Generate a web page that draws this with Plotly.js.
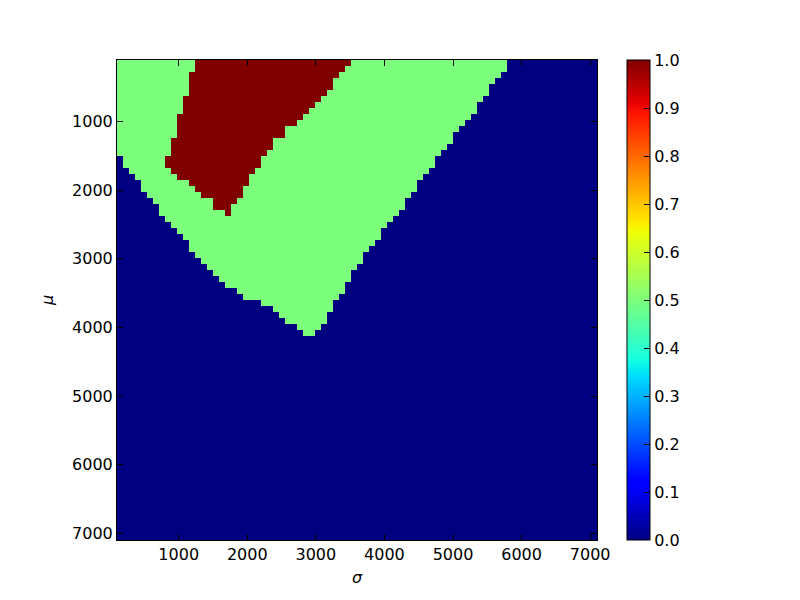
<!DOCTYPE html>
<html>
<head>
<meta charset="utf-8">
<script src="https://cdn.plot.ly/plotly-3.0.1.min.js"></script>
<style>html,body{margin:0;padding:0;background:#fff;}#chart{width:800px;height:600px;}</style>
</head>
<body>
<div id="chart"></div>
<script>
// Grid: 80 x 80 cells spanning sigma (x) and mu (y) from 100 to 7100
const nCells = 80;
const axisMin = 100;
const axisMax = 7100;
const tickValues = [1000, 2000, 3000, 4000, 5000, 6000, 7000];
const tickLabels = ["1000", "2000", "3000", "4000", "5000", "6000", "7000"];
const cbarTicks = [0, 0.1, 0.2, 0.3, 0.4, 0.5, 0.6, 0.7, 0.8, 0.9, 1.0];
const cbarLabels = ["0.0","0.1","0.2","0.3","0.4","0.5","0.6","0.7","0.8","0.9","1.0"];

// Region values
const valueLow = 0.0;   // dark blue
const valueMid = 0.5;   // green
const valueHigh = 1.0;  // dark red

// Per mu-row (row 0 = top), column index where the green band starts (blue before it)
const rowGreenStart = [0,0,0,0,0,0,0,0,0,0,0,0,0,0,0,0,
  1,1,2,3,4,4,5,6,7,7,8,9,10,11,12,12,13,14,15,16,17,18,20,21,24,26,27,28,30,31];
// Per row, first red column and first column after red (rows 0..25)
const rowRedStart = [13,13,12,12,12,12,11,11,11,10,10,10,10,9,9,9,8,8,9,10,12,13,14,16,16,18];
const rowRedEnd   = [39,38,37,36,36,35,34,33,32,31,30,28,28,26,26,25,24,24,23,22,22,21,21,20,19,19];
// Per row, first blue column on the right side of the green band (rows 0..45)
const rowBlueStart = [65,65,64,63,62,62,61,60,60,59,58,57,56,56,55,54,
  53,53,52,51,50,50,49,48,48,47,46,45,44,44,43,
  42,41,41,40,39,39,38,38,37,36,36,35,35,34,33];

// Build z matrix from the row descriptions
const z = [];
for (let r = 0; r < nCells; r++) {
  const row = [];
  for (let c = 0; c < nCells; c++) {
    let v = valueLow;
    if (r < rowBlueStart.length) {
      if (c >= rowGreenStart[r] && c < rowBlueStart[r]) v = valueMid;
      if (r < rowRedStart.length && c >= rowRedStart[r] && c < rowRedEnd[r]) v = valueHigh;
    }
    row.push(v);
  }
  z.push(row);
}

const cell = (axisMax - axisMin) / nCells;

// matplotlib "jet"
const jet = [
  [0.0, 'rgb(0,0,128)'],
  [0.11, 'rgb(0,0,255)'],
  [0.125, 'rgb(0,0,255)'],
  [0.34, 'rgb(0,219,255)'],
  [0.35, 'rgb(0,230,247)'],
  [0.375, 'rgb(21,255,226)'],
  [0.64, 'rgb(239,255,8)'],
  [0.65, 'rgb(247,246,0)'],
  [0.66, 'rgb(255,236,0)'],
  [0.89, 'rgb(255,19,0)'],
  [0.91, 'rgb(232,0,0)'],
  [1.0, 'rgb(128,0,0)']
];

const font = {family: 'DejaVu Sans', size: 16, color: '#000'};

const trace = {
  type: 'heatmap',
  z: z,
  x0: axisMin + cell / 2,
  dx: cell,
  y0: axisMin + cell / 2,
  dy: cell,
  zmin: 0,
  zmax: 1,
  zsmooth: false,
  colorscale: jet,
  hoverinfo: 'skip',
  colorbar: {
    xref: 'container',
    x: 627 / 800,
    xanchor: 'left',
    xpad: 0,
    ypad: 0,
    y: 0.5,
    yanchor: 'middle',
    len: 1,
    lenmode: 'fraction',
    thickness: 23,
    thicknessmode: 'pixels',
    outlinewidth: 1,
    outlinecolor: '#000',
    tickmode: 'array',
    tickvals: cbarTicks,
    ticktext: cbarLabels,
    ticks: 'inside',
    ticklen: 6,
    tickwidth: 1,
    tickcolor: '#000',
    tickfont: font
  }
};

const layout = {
  width: 800,
  height: 600,
  margin: {l: 117, r: 203, t: 60, b: 60, pad: 0},
  paper_bgcolor: '#fff',
  plot_bgcolor: '#fff',
  font: font,
  showlegend: false,
  xaxis: {
    range: [axisMin, axisMax],
    tickmode: 'array',
    tickvals: tickValues,
    ticktext: tickLabels,
    ticks: 'inside',
    ticklen: 6,
    tickwidth: 1,
    tickcolor: '#000',
    showline: true,
    linecolor: '#000',
    linewidth: 1,
    mirror: 'ticks',
    showgrid: false,
    zeroline: false,
    tickfont: font,
    title: {text: '<i>σ</i>', font: {family: 'DejaVu Sans', size: 16}, standoff: 8},
    automargin: false
  },
  yaxis: {
    range: [axisMax, axisMin],
    tickmode: 'array',
    tickvals: tickValues,
    ticktext: tickLabels,
    ticks: 'inside',
    ticklen: 6,
    tickwidth: 1,
    tickcolor: '#000',
    showline: true,
    linecolor: '#000',
    linewidth: 1,
    mirror: 'ticks',
    showgrid: false,
    zeroline: false,
    tickfont: font,
    title: {text: '<i>μ</i>', font: {family: 'DejaVu Sans', size: 16}, standoff: 14},
    automargin: false
  }
};

Plotly.newPlot('chart', [trace], layout, {displayModeBar: false, staticPlot: true});
</script>
</body>
</html>
